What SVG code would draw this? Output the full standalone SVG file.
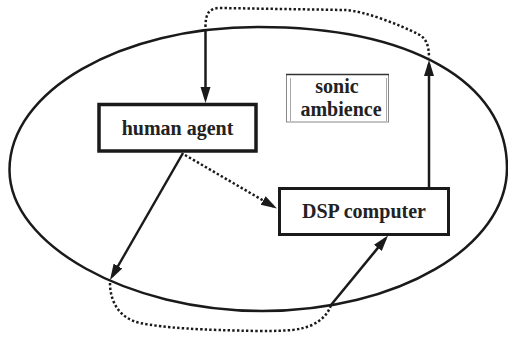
<svg xmlns="http://www.w3.org/2000/svg" width="508" height="338" viewBox="0 0 508 338">
<defs>
<marker id="ah" markerUnits="userSpaceOnUse" markerWidth="16" markerHeight="12" refX="12" refY="6" orient="auto">
<path d="M0,1 L16,6 L0,11 z" fill="#1a1a1a"/>
</marker>
<style>
.lbl{font-weight:bold;font-size:20px;fill:#222;text-anchor:middle}
.box{fill:#fff;stroke:#1a1a1a}
.solid{fill:none;stroke:#1a1a1a;stroke-width:2.5}
.dot{fill:none;stroke:#1a1a1a;stroke-width:2.5;stroke-dasharray:2.4 2.2}
</style>
</defs>
<rect width="508" height="338" fill="#fff"/>
<g id="ambience-ellipse">
<path d="M9.5,170 C9.5,91 120.7,27 258,27 C410.5,27 507,81.6 507,168 C507,247 397.3,311 262,311 C128.2,311 9.5,244.7 9.5,170 Z" fill="none" stroke="#1a1a1a" stroke-width="2.5"/>
</g>
<g id="connectors">
<path class="dot" d="M205.5,27 C205.5,15 208,8 220,8 L345,10 C365,11 400,25 418,34 C426,38 429,45 429,58"/>
<path class="dot" d="M110,283 C110,300 118,318 140,323 C165,328 200,330 260,331 C290,331 300,330 312,325 C322,320 328,314 331,305"/>
<line class="solid" x1="205.5" y1="30" x2="205.5" y2="99" marker-end="url(#ah)"/>
<line class="solid" x1="429" y1="187" x2="429" y2="64" marker-end="url(#ah)"/>
<line class="solid" x1="183" y1="153" x2="112" y2="276.5" marker-end="url(#ah)"/>
<line class="dot" x1="185" y1="155" x2="273.5" y2="206.5" marker-end="url(#ah)"/>
<line class="solid" x1="331" y1="305" x2="385.5" y2="238.6" marker-end="url(#ah)"/>
</g>
<g id="human-agent">
<rect class="box" x="99" y="104.5" width="157" height="46.5" stroke-width="3.5"/>
<text class="lbl" font-family="'Liberation Serif', 'DejaVu Serif', serif" x="177.5" y="135">human agent</text>
</g>
<g id="dsp-computer">
<rect class="box" x="279.5" y="188.5" width="169" height="46" stroke-width="3"/>
<text class="lbl" font-family="'Liberation Serif', 'DejaVu Serif', serif" x="364" y="218">DSP computer</text>
</g>
<g id="sonic-ambience">
<rect x="286.5" y="74.5" width="102" height="47.5" fill="#fff" stroke="#888" stroke-width="1"/>
<line x1="286" y1="74.5" x2="389" y2="74.5" stroke="#333" stroke-width="1.5"/>
<line x1="290.5" y1="78" x2="290.5" y2="121" stroke="#aaa" stroke-width="1"/>
<line x1="386.5" y1="78" x2="386.5" y2="121" stroke="#aaa" stroke-width="1"/>
<text class="lbl" font-family="'Liberation Serif', 'DejaVu Serif', serif" x="337" y="93">sonic</text>
<text class="lbl" font-family="'Liberation Serif', 'DejaVu Serif', serif" x="341" y="116">ambience</text>
</g>
</svg>
